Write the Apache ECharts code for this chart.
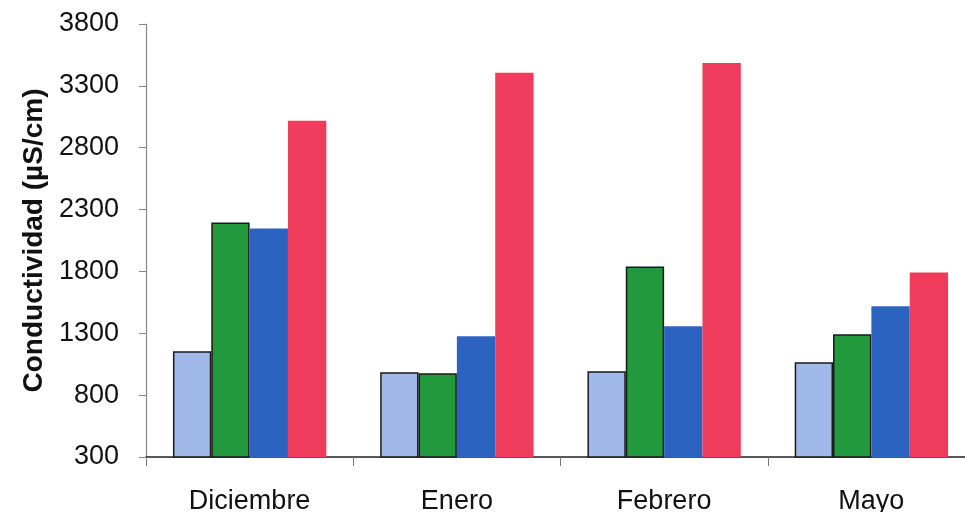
<!DOCTYPE html>
<html>
<head>
<meta charset="utf-8">
<script src="https://cdn.jsdelivr.net/npm/echarts@6/dist/echarts.min.js"></script>
<style>
  html, body { margin: 0; padding: 0; background: #fff; }
  #chart { width: 965px; height: 512px; }
</style>
</head>
<body>
<div id="chart"></div>
<script>
// Conductivity per sampling month, four sampling points
const months = ['Diciembre', 'Enero', 'Febrero', 'Mayo'];
const serieA = [1155, 985, 994, 1066];
const serieB = [2195, 977, 1840, 1292];
const serieC = [2147, 1276, 1356, 1518];
const serieD = [3018, 3405, 3485, 1792];
const yTicks = [300, 800, 1300, 1800, 2300, 2800, 3300, 3800];

const font = 'Arial, "Liberation Sans", sans-serif';

function barSeries(values, color, border) {
  return {
    type: 'bar',
    data: values,
    barGap: '0%',
    barCategoryGap: '26%',
    itemStyle: {
      color: color,
      borderColor: border || color,
      borderWidth: border ? 1.5 : 0
    },
    emphasis: { disabled: true }
  };
}

const chart = echarts.init(document.getElementById('chart'));
chart.setOption({
  animation: false,
  backgroundColor: '#ffffff',
  // the plot area runs a little past the right edge of the canvas
  grid: { left: 146, width: 829, top: 24, bottom: 55, outerBoundsMode: 'none' },
  xAxis: {
    type: 'category',
    data: months,
    axisLine: { lineStyle: { color: '#222', width: 1.5 } },
    axisTick: { show: true, length: 9, lineStyle: { color: '#777' } },
    axisLabel: { color: '#111', fontFamily: font, fontSize: 27, margin: 31 }
  },
  yAxis: {
    type: 'value',
    min: yTicks[0],
    max: yTicks[yTicks.length - 1],
    interval: 500,
    name: 'Conductividad (µS/cm)',
    nameLocation: 'middle',
    nameGap: 85,
    nameTextStyle: { color: '#111', fontFamily: font, fontSize: 28, fontWeight: 'bold' },
    axisLine: { show: true, lineStyle: { color: '#888', width: 1.2 } },
    axisTick: { show: true, length: 7, lineStyle: { color: '#888' } },
    splitLine: { show: false },
    axisLabel: {
      color: '#111', fontFamily: font, fontSize: 27, margin: 27,
      formatter: (v) => String(v)
    }
  },
  series: [
    barSeries(serieA, '#a0b9e8', '#1a1a1a'),
    barSeries(serieB, '#22993c', '#1a1a1a'),
    barSeries(serieC, '#2c63c0', null),
    barSeries(serieD, '#ef3b5c', null)
  ]
});
</script>
</body>
</html>
